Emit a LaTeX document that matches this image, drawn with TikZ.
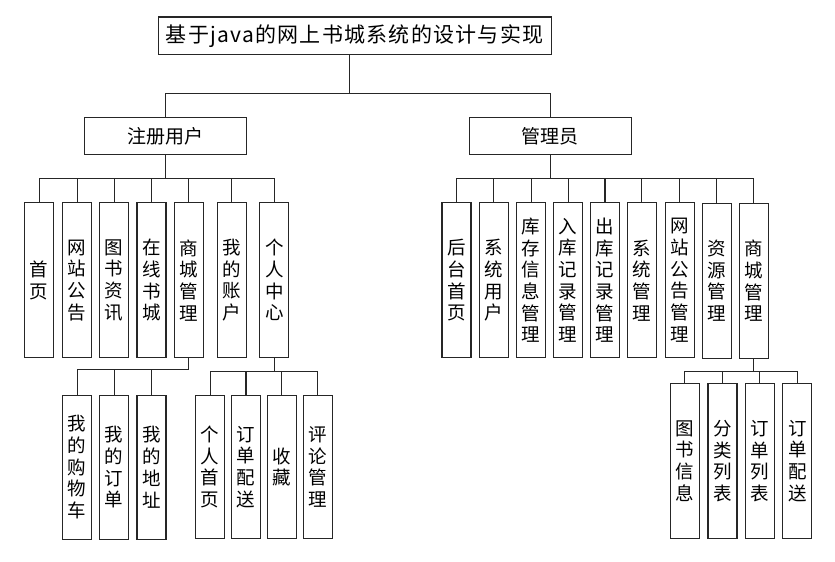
\documentclass[tikz,border=0pt]{standalone}
\usepackage{fontspec}
\setmainfont{Noto Sans CJK SC}
\newfontfamily\cjkspaced[LetterSpace=6]{Noto Sans CJK SC}
\begin{document}
\begin{tikzpicture}[x=1pt,y=-1pt,
  line width=1.1pt, draw=black!85,
  hbox/.style={draw=black!85, line width=1.1pt, inner sep=0pt, font=\fontsize{19}{22}\selectfont},
  vbox/.style={draw=black!85, line width=1.1pt, inner sep=0pt, minimum width=29pt, align=center, font=\fontsize{18.5}{21.7}\selectfont},
  tall/.style={vbox, minimum height=155pt},
  short/.style={vbox, minimum height=143.7pt},
  conn/.style={draw=black!85, line width=1.1pt}]
\useasboundingbox (0,0) rectangle (835,562);
% top levels
\node[hbox, minimum width=393pt, minimum height=37.7pt, font=\cjkspaced\fontsize{21}{24}\selectfont] (title) at (354.6,35.8) {基于java的网上书城系统的设计与实现};
\node[hbox, minimum width=161.7pt, minimum height=37.4pt] (reg) at (165.2,136) {注册用户};
\node[hbox, minimum width=162pt, minimum height=37.6pt] (adm) at (550.3,136) {管理员};
% registered user children
\node[tall] (a1) at (39.2,280.2) {首\\页};
\node[tall] (a2) at (77.2,280.2) {网\\站\\公\\告};
\node[tall] (a3) at (114.2,280.2) {图\\书\\资\\讯};
\node[tall] (a4) at (151.5,280.2) {在\\线\\书\\城};
\node[tall] (a5) at (188.8,280.2) {商\\城\\管\\理};
\node[tall] (a6) at (231.7,280.2) {我\\的\\账\\户};
\node[tall] (a7) at (274.3,280.2) {个\\人\\中\\心};
% admin children
\node[tall] (b1) at (456.5,280.3) {后\\台\\首\\页};
\node[tall] (b2) at (493.8,280.3) {系\\统\\用\\户};
\node[tall] (b3) at (531.2,280.3) {库\\存\\信\\息\\管\\理};
\node[tall] (b4) at (568.2,280.3) {入\\库\\记\\录\\管\\理};
\node[tall] (b5) at (605,280.3) {出\\库\\记\\录\\管\\理};
\node[tall] (b6) at (641.8,280.3) {系\\统\\管\\理};
\node[tall] (b7) at (679.8,280.3) {网\\站\\公\\告\\管\\理};
\node[tall] (b8) at (716.8,280.8) {资\\源\\管\\理};
\node[tall] (b9) at (753.8,280.8) {商\\城\\管\\理};
% 商城管理 (user) children
\node[short] (c1) at (77.2,467.2) {我\\的\\购\\物\\车};
\node[short] (c2) at (114.2,467.2) {我\\的\\订\\单};
\node[short] (c3) at (151.5,467.2) {我\\的\\地\\址};
% 个人中心 children
\node[short] (d1) at (210.2,467) {个\\人\\首\\页};
\node[short] (d2) at (246,467) {订\\单\\配\\送};
\node[short] (d3) at (281.8,467) {收\\藏};
\node[short] (d4) at (317.8,467) {评\\论\\管\\理};
% 商城管理 (admin) children
\node[tall] (e1) at (684.8,461) {图\\书\\信\\息};
\node[tall] (e2) at (722.5,461) {分\\类\\列\\表};
\node[tall] (e3) at (759.8,461) {订\\单\\列\\表};
\node[tall] (e4) at (797.3,461) {订\\单\\配\\送};
% connectors
\foreach \c in {reg,adm}
  \draw[conn] ([xshift=-5.3pt]title.south) -- ++(0,38.2) -| (\c.north);
\foreach \c in {a1,a2,a3,a4,a5,a6,a7}
  \draw[conn] (reg.south) -- ++(0,23.3) -| (\c.north);
\foreach \c in {b1,b2,b3,b4,b5,b6,b7,b8,b9}
  \draw[conn] (adm.south) -- ++(0,23.3) -| (\c.north);
\foreach \c in {c1,c2,c3}
  \draw[conn] (a5.south) -- ++(0,11.6) -| (\c.north);
\foreach \c in {d1,d2,d3,d4}
  \draw[conn] (a7.south) -- ++(0,13.3) -| (\c.north);
\foreach \c in {e1,e2,e3,e4}
  \draw[conn] ([xshift=-0.5pt]b9.south) -- ++(0,12.5) -| (\c.north);
\end{tikzpicture}
\end{document}
